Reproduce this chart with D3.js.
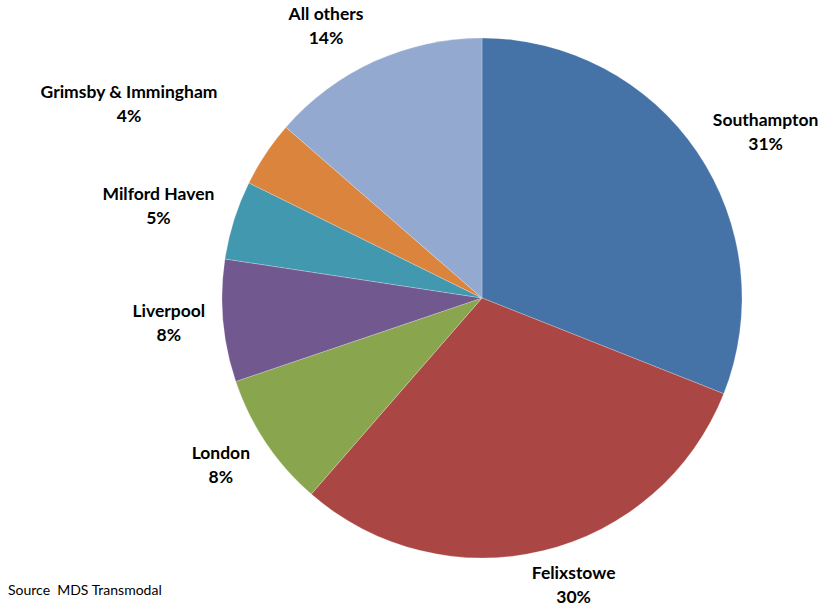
<!DOCTYPE html>
<html><head><meta charset="utf-8">
<script src="https://cdn.jsdelivr.net/npm/d3@7"></script>
<style>body{margin:0;background:#fff}svg{display:block}</style>
</head><body>
<svg id="c" width="825" height="607"></svg>
<script>
const ports = ["Southampton","Felixstowe","London","Liverpool","Milford Haven","Grimsby & Immingham","All others"];
const shares = [31.0, 30.4, 8.4, 7.6, 4.9, 4.1, 13.6];
const colors = ["#4572A7","#AA4643","#89A54E","#71588F","#4198AF","#DB843D","#93A9CF"];
const source = "Source  MDS Transmodal";

// layout (not data)
const W = 825, H = 607, cx = 482, cy = 298, R = 260;
const font = "Lato, 'Open Sans', sans-serif";
const nudges = [[10,2],[16,-5],[-6,-1],[0,-2],[-5,-2],[-48,-28],[-25,1]];

const svg = d3.select("#c");
const pie = d3.pie().sort(null).value(d => d.v).startAngle(0).endAngle(2*Math.PI);
const data = pie(ports.map((p,i) => ({name:p, v:shares[i], c:colors[i]})));
const arc = d3.arc().innerRadius(0).outerRadius(R);
const g = svg.append("g").attr("transform", `translate(${cx},${cy})`);
g.selectAll("path").data(data).join("path")
  .attr("d", arc).attr("fill", d => d.data.c)
  .attr("stroke", "#fff").attr("stroke-width", 0.4).attr("stroke-opacity", 0.6);

const lab = g.selectAll("g.lab").data(data).join("g").attr("class","lab");
lab.each(function(d,i){
  const sel = d3.select(this);
  const t = sel.append("text").attr("font-family", font).attr("font-weight", 700)
    .attr("font-size", 17.5).attr("fill", "#000").attr("text-anchor","middle");
  t.append("tspan").attr("x",0).attr("y",-4).text(d.data.name);
  t.append("tspan").attr("x",0).attr("y",20).text(Math.round(d.data.v) + "%");
  const bb = t.node().getBBox();
  const a = (d.startAngle + d.endAngle)/2;
  const s = Math.sin(a), c = -Math.cos(a);
  const ar = R + 18;
  const ax = ar*s, ay = ar*c;
  const bx = ax + s*bb.width/2 + nudges[i][0];
  const by = ay + c*bb.height/2 + nudges[i][1];
  const ccy = bb.y + bb.height/2;
  sel.attr("transform", `translate(${bx},${by - ccy})`);
});

svg.append("text").attr("x", 8).attr("y", 595).attr("font-family", font)
  .attr("font-size", 14).attr("fill", "#000").style("white-space","pre").text(source);
</script>
</body></html>
